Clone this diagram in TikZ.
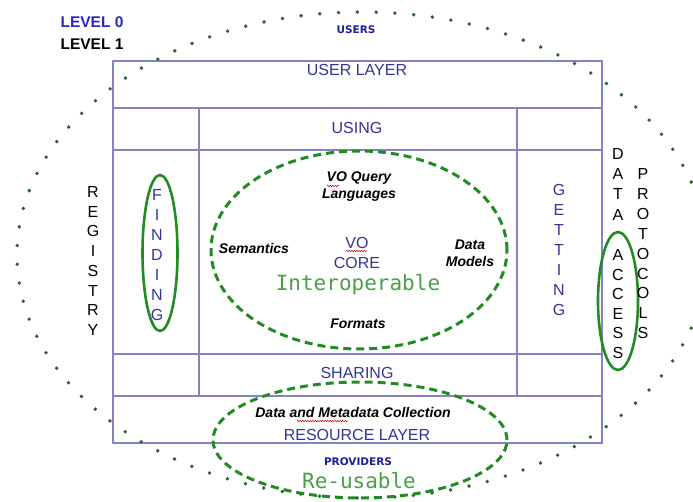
\documentclass[tikz,border=0pt]{standalone}
\usepackage{fontspec}
\setmainfont{Liberation Sans}
\newfontfamily\monofont{DejaVu Sans Mono}
\newfontfamily\widefont{DejaVu Sans}
\usetikzlibrary{decorations.pathmorphing}
\definecolor{vogrid}{RGB}{132,132,196}
\definecolor{votext}{RGB}{52,52,150}
\definecolor{voblue}{RGB}{40,40,190}
\definecolor{vonavy}{RGB}{30,30,150}
\definecolor{vogreen}{RGB}{34,140,34}
\definecolor{vodot}{RGB}{36,100,46}
\definecolor{vomono}{RGB}{72,160,72}

\begin{document}
\begin{tikzpicture}[x=1pt,y=-1pt,
  grid/.style={vogrid,line width=1.3pt},
  layer/.style={votext,font=\fontsize{16}{18}\selectfont},
  topic/.style={font=\fontsize{14}{17}\selectfont\bfseries\itshape,align=center},
  letter/.style={font=\fontsize{16}{18}\selectfont,inner sep=0pt},
  level/.style={anchor=west,font=\fontsize{15.5}{18}\selectfont\bfseries},
  actor/.style={vonavy,font=\fontsize{10.5}{12}\widefont\bfseries},
  fair/.style={vomono,font=\fontsize{21}{24}\monofont},
  ring/.style={vogreen,line width=2.6pt},
  dashring/.style={vogreen,line width=3pt,dash pattern=on 8pt off 5pt},
  dotring/.style={vodot,line width=3.8pt,line cap=round,dash pattern=on 0pt off 18.8pt},
  spell/.style={red!80!black,line width=0.5pt,decorate,
    decoration={snake,amplitude=0.7pt,segment length=2.5pt}}]
  \useasboundingbox (0,0) rectangle (693,502);

  % layers and columns
  \draw[grid] (113,61) rectangle (602,443);
  \foreach \y in {108,150,354,396}
    \draw[grid] (113,\y) -- (602,\y);
  \foreach \x in {199,517}
    \draw[grid] (\x,108) -- (\x,396);

  % rings
  \draw[dotring] (362,255) ellipse [x radius=345pt, y radius=243pt];
  \draw[dashring] (359,250) ellipse [x radius=148pt, y radius=99pt];
  \draw[dashring] (360,440) ellipse [x radius=147pt, y radius=58pt];
  \draw[ring] (160,253) ellipse [x radius=17.5pt, y radius=78pt];
  \draw[ring] (618,301) ellipse [x radius=20pt, y radius=69pt];

  % levels
  \node[level,voblue] (lvl0) at (57,22) {LEVEL 0};
  \node[level,black] (lvl1) at (57,44) {LEVEL 1};

  % layer texts
  \node[actor] (users) at (356,30) {USERS};
  \node[layer] (userlayer) at (357,70) {USER LAYER};
  \node[layer] (using) at (357,128) {USING};
  \node[layer] (sharing) at (357,373) {SHARING};
  \node[layer] (resource) at (357,435) {RESOURCE LAYER};
  \node[actor] (providers) at (358,462) {PROVIDERS};

  % core
  \node[topic] (query) at (359,187) {VO Query\\Languages};
  \node[topic] (semantics) at (254,248) {Semantics};
  \node[topic] (models) at (470,253) {Data\\Models};
  \node[topic] (formats) at (358,324) {Formats};
  \node[layer,align=center,font=\fontsize{16}{20}\selectfont] (core) at (357,253) {VO\\CORE};
  \node[fair] (interop) at (358,285) {Interoperable};
  \node[topic] (collection) at (353,412) {Data and Metadata Collection};
  \node[fair] (reuse) at (359,481) {Re-usable};

  % spelling marks
  \draw[spell] (327,186) -- (339,186);
  \draw[spell] (346,251) -- (367,251);
  \draw[spell] (297,421) -- (348,421);

  % letter columns
  \foreach \c [count=\i from 0] in {R,E,G,I,S,T,R,Y}
    \node[letter] (reg\i) at (93,192+19.7*\i) {\c};
  \foreach \c [count=\i from 0] in {F,I,N,D,I,N,G}
    \node[letter,votext] (find\i) at (157,195+20*\i) {\c};
  \foreach \c [count=\i from 0] in {G,E,T,T,I,N,G}
    \node[letter,votext] (get\i) at (559,190+20*\i) {\c};
  \foreach \c [count=\i from 0] in {D,A,T,A}
    \node[letter] (data\i) at (618,154+20.2*\i) {\c};
  \foreach \c [count=\i from 0] in {A,C,C,E,S,S}
    \node[letter] (acc\i) at (618,255+19.6*\i) {\c};
  \foreach \c [count=\i from 0] in {P,R,O,T,O,C,O,L,S}
    \node[letter] (prot\i) at (643,174+19.9*\i) {\c};
\end{tikzpicture}
\end{document}
